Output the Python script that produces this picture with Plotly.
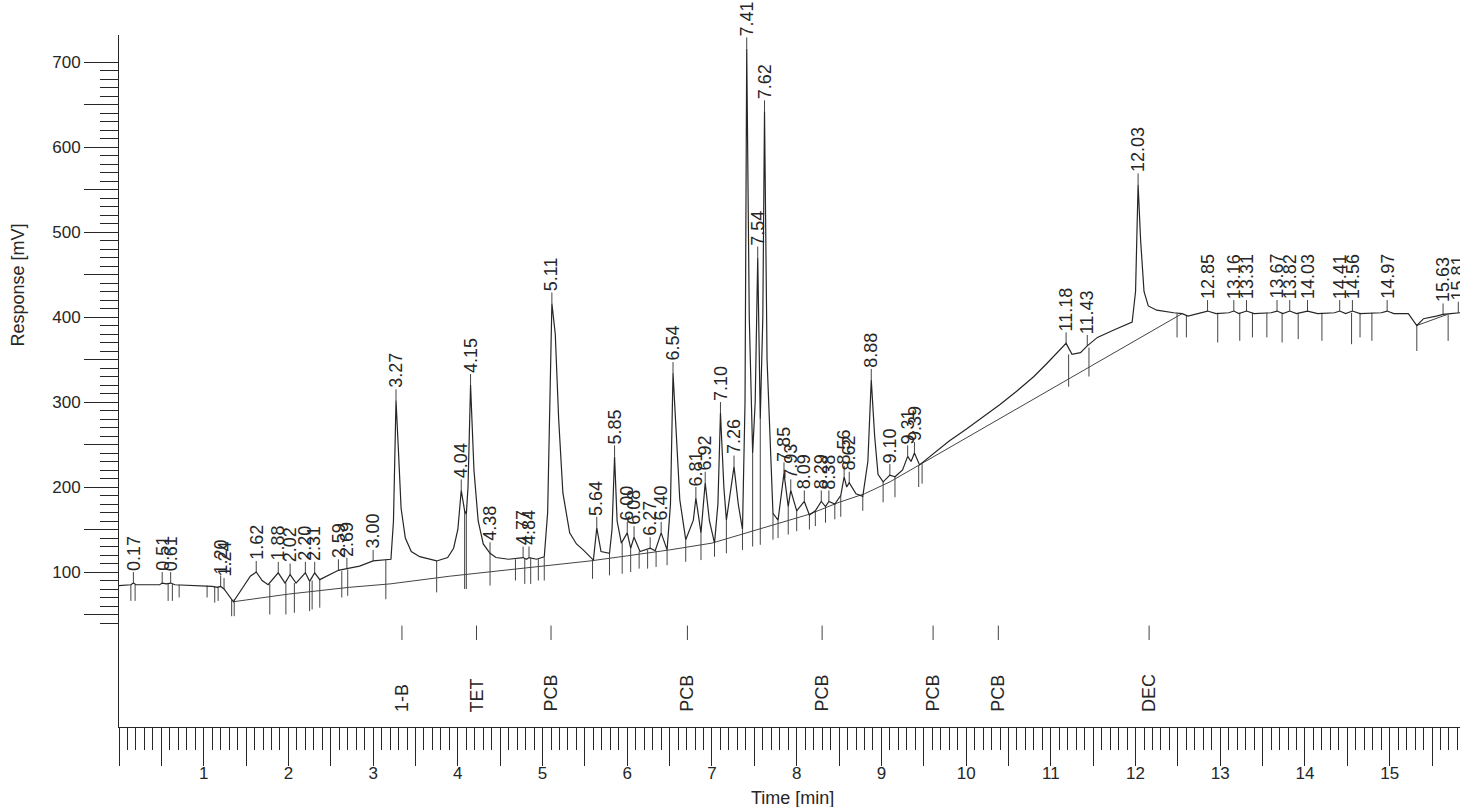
import plotly.graph_objects as go

# ---------------- data ----------------
# chromatogram trace vertices: time [min], response [mV]
trace_t = [0.00, 0.14, 0.17, 0.20, 0.48, 0.51, 0.56, 0.61, 0.66, 0.90, 1.10, 1.16, 1.20, 1.24,
           1.35, 1.45, 1.55, 1.62, 1.69, 1.76, 1.88, 1.96, 2.02, 2.09, 2.20, 2.25, 2.31, 2.37,
           2.50, 2.59, 2.69, 2.84, 3.00, 3.10, 3.21, 3.24, 3.27, 3.30, 3.33, 3.38, 3.45, 3.55,
           3.75, 3.88, 3.95, 4.00, 4.04, 4.08, 4.10, 4.12, 4.15, 4.19, 4.24, 4.30, 4.38, 4.45,
           4.60, 4.77, 4.81, 4.84, 4.93, 5.02, 5.06, 5.11, 5.15, 5.19, 5.24, 5.32, 5.40, 5.48,
           5.60, 5.64, 5.69, 5.79, 5.82, 5.85, 5.88, 5.93, 6.00, 6.04, 6.08, 6.15, 6.27, 6.33,
           6.40, 6.47, 6.51, 6.54, 6.58, 6.62, 6.69, 6.78, 6.81, 6.87, 6.92, 6.97, 7.03, 7.07,
           7.10, 7.14, 7.17, 7.26, 7.31, 7.36, 7.39, 7.41, 7.44, 7.48, 7.51, 7.54, 7.57, 7.60,
           7.62, 7.65, 7.72, 7.78, 7.85, 7.90, 7.93, 8.00, 8.09, 8.15, 8.22, 8.29, 8.34, 8.38,
           8.45, 8.52, 8.56, 8.59, 8.62, 8.70, 8.78, 8.84, 8.88, 8.92, 8.96, 9.02, 9.10, 9.16,
           9.25, 9.31, 9.35, 9.39, 9.45, 9.60, 9.80, 10.00, 10.20, 10.40, 10.60, 10.80, 10.95,
           11.10, 11.18, 11.25, 11.35, 11.43, 11.55, 11.75, 11.96, 12.00, 12.03, 12.06, 12.10,
           12.15, 12.25, 12.45, 12.55, 12.62, 12.75, 12.85, 12.95, 13.10, 13.16, 13.22, 13.31,
           13.40, 13.60, 13.67, 13.74, 13.82, 13.90, 14.03, 14.15, 14.35, 14.41, 14.48, 14.56,
           14.65, 14.90, 14.97, 15.05, 15.22, 15.32, 15.40, 15.55, 15.63, 15.72, 15.81, 15.83]
trace_v = [84, 85, 87, 85, 85, 87, 86, 87, 85, 84, 83, 82, 83, 80,
           65, 80, 95, 100, 90, 85, 99, 87, 97, 87, 99, 89, 99, 91,
           97, 102, 104, 107, 113, 114, 115, 160, 302, 240, 175, 140, 124, 118,
           113, 117, 128, 150, 196, 172, 168, 200, 320, 220, 160, 133, 122, 117,
           115, 117, 115, 117, 115, 118, 170, 416, 380, 280, 193, 146, 133, 126,
           114, 152, 124, 122, 150, 236, 160, 134, 146, 128, 141, 124, 128, 125,
           146, 126, 180, 334, 260, 185, 138, 161, 187, 146, 205, 160, 134, 180,
           287, 200, 161, 224, 180, 150, 300, 716, 400, 240, 300, 470, 280, 400,
           642, 350, 169, 161, 216, 177, 196, 172, 183, 167, 172, 183, 177, 183,
           180, 190, 212, 200, 205, 192, 189, 230, 326, 260, 215, 206, 214, 212,
           220, 236, 230, 240, 226, 238, 254, 268, 282, 297, 313, 330, 345,
           360, 369, 356, 358, 366, 376, 385, 394, 430, 556, 490, 430,
           413, 408, 405, 404, 401, 404, 407, 404, 405, 407, 404, 407,
           404, 405, 407, 404, 407, 404, 407, 404, 405, 407, 404, 407,
           404, 405, 407, 404, 404, 390, 398, 401, 403, 404, 405, 405]

# integration baseline
base_t = [1.35, 2.00, 2.72, 3.20, 3.90, 4.70, 5.56, 6.00, 6.50, 7.00, 7.40, 7.80, 8.15, 8.50,
          8.80, 9.10, 9.45, 12.55]
base_v = [65, 74, 82, 86, 95, 104, 113, 119, 126, 134, 146, 158, 168, 182, 192, 206, 226, 404]
base2_t = [15.32, 15.68]
base2_v = [390, 403]

# peak labels (retention time) and the response at the apex
peak_lbl = ["0.17", "0.51", "0.61", "1.20", "1.24", "1.62", "1.88", "2.02", "2.20", "2.31",
            "2.59", "2.69", "3.00", "3.27", "4.04", "4.15", "4.38", "4.77", "4.84", "5.11",
            "5.64", "5.85", "6.00", "6.08", "6.27", "6.40", "6.54", "6.81", "6.92", "7.10",
            "7.26", "7.41", "7.54", "7.62", "7.85", "7.93", "8.09", "8.29", "8.38", "8.56",
            "8.62", "8.88", "9.10", "9.31", "9.39", "11.18", "11.43", "12.03", "12.85", "13.16",
            "13.31", "13.67", "13.82", "14.03", "14.41", "14.56", "14.97", "15.63", "15.81"]
peak_v = [87, 87, 87, 83, 80, 100, 99, 97, 99, 99,
          102, 104, 113, 302, 196, 320, 122, 117, 117, 416,
          152, 236, 146, 141, 128, 146, 334, 187, 205, 287,
          224, 716, 470, 642, 216, 196, 183, 183, 183, 212,
          205, 326, 214, 236, 240, 369, 366, 556, 407, 407,
          407, 407, 407, 407, 407, 407, 407, 403, 405]

# integration event markers: time, top, bottom [mV]
mark_t = [0.14, 0.19, 0.58, 0.63, 0.71, 1.04, 1.13, 1.17, 1.33, 1.36, 1.78, 1.97, 2.07, 2.25,
          2.28, 2.37, 2.63, 2.70, 3.15, 3.75, 4.08, 4.10, 4.38, 4.68, 4.79, 4.86, 4.95, 5.02,
          5.59, 5.79, 5.94, 6.04, 6.14, 6.24, 6.34, 6.47, 6.69, 6.87, 7.03, 7.17, 7.36, 7.48,
          7.57, 7.72, 7.78, 7.90, 8.00, 8.15, 8.22, 8.34, 8.45, 8.52, 8.78, 9.02, 9.16, 9.44,
          9.48, 11.21, 11.45, 12.49, 12.60, 12.97, 13.23, 13.38, 13.55, 13.73, 13.92, 14.20,
          14.55, 14.65, 14.79, 15.32, 15.69]
mark_top = [85, 85, 86, 86, 85, 84, 83, 83, 68, 68, 86, 87, 87, 89,
            90, 91, 101, 103, 114, 113, 172, 168, 122, 115, 116, 116, 115, 117,
            114, 122, 134, 128, 124, 126, 125, 126, 138, 146, 134, 161, 150, 240,
            280, 169, 161, 177, 172, 167, 172, 177, 180, 190, 189, 206, 212, 226,
            228, 356, 364, 404, 402, 405, 405, 405, 405, 405, 405, 405,
            405, 405, 405, 390, 403]
mark_bot = [66, 66, 66, 66, 70, 70, 64, 66, 48, 48, 50, 50, 52, 54,
            56, 58, 70, 72, 68, 76, 80, 80, 84, 90, 86, 86, 90, 90,
            92, 96, 98, 100, 104, 104, 106, 108, 112, 114, 118, 122, 126, 130,
            132, 138, 140, 144, 148, 150, 154, 158, 162, 165, 172, 182, 188, 200,
            204, 318, 330, 376, 376, 370, 372, 376, 376, 370, 374, 372,
            368, 376, 372, 360, 372]

# compound identification windows
id_t = [3.34, 4.22, 5.10, 6.71, 8.30, 9.61, 10.38, 12.16]
id_lbl = ["1-B", "TET", "PCB", "PCB", "PCB", "PCB", "PCB", "DEC"]
id_tick = [20, 37]
id_text_v = -67

# axes
X_RANGE = [0, 15.83]
Y_RANGE = [-82.35, 731.76]
x_major = [i * 0.5 for i in range(0, 32)]
x_major_txt = [str(int(v)) if (v == int(v) and v > 0) else "" for v in x_major]
x_minor = [round(i * 0.1, 1) for i in range(1, 159) if i % 5 != 0]
y_major = list(range(50, 701, 50))
y_major_txt = [str(v) if v % 100 == 0 else "" for v in y_major]
y_minor = [v for v in range(40, 700, 10) if v % 50 != 0]

# ---------------- figure ----------------
INK = "#262626"
FONT = "Arial, Liberation Sans, sans-serif"
W, H = 1460, 807
M = dict(l=119, r=0, t=35, b=80)
plot_h = H - M["t"] - M["b"]
mv_per_px = (Y_RANGE[1] - Y_RANGE[0]) / plot_h
LABEL_GAP_PX = 11

fig = go.Figure()

def segments(ts, tops, bots):
    xs, ys = [], []
    for t, a, b in zip(ts, tops, bots):
        xs += [t, t, None]
        ys += [a, b, None]
    return xs, ys

def add_lines(xs, ys, color="#444", width=1):
    fig.add_trace(go.Scatter(x=xs, y=ys, mode="lines", line=dict(color=color, width=width),
                             hoverinfo="skip", showlegend=False))

mx, my = segments(mark_t, mark_top, mark_bot)
add_lines(mx, my)
ix, iy = segments(id_t, [id_tick[1]] * len(id_t), [id_tick[0]] * len(id_t))
add_lines(ix, iy)
peak_t = [float(s) for s in peak_lbl]
px_, py_ = segments(peak_t, peak_v, [v + LABEL_GAP_PX * mv_per_px for v in peak_v])
add_lines(px_, py_)
add_lines(base_t, base_v)
add_lines(base2_t, base2_v)
add_lines(trace_t, trace_v, color=INK, width=1.2)

ann = []
for t, lbl, v in zip(peak_t, peak_lbl, peak_v):
    ann.append(dict(x=t, y=v, xref="x", yref="y", text=lbl, textangle=-90,
                    showarrow=False, xanchor="center", yanchor="bottom",
                    yshift=LABEL_GAP_PX - 1,
                    font=dict(family=FONT, size=18, color=INK)))
for t, lbl in zip(id_t, id_lbl):
    ann.append(dict(x=t, y=id_text_v, xref="x", yref="y", text=lbl, textangle=-90,
                    showarrow=False, xanchor="center", yanchor="bottom",
                    font=dict(family=FONT, size=18, color=INK)))
ann.append(dict(x=0.5026, y=-0.103, xref="paper", yref="paper", text="Time [min]",
                showarrow=False, xanchor="center", yanchor="middle",
                font=dict(family=FONT, size=18, color=INK)))
ann.append(dict(x=-0.0755, y=0.639, xref="paper", yref="paper", text="Response [mV]",
                textangle=-90, showarrow=False, xanchor="center", yanchor="middle",
                font=dict(family=FONT, size=18, color=INK)))

fig.update_layout(
    width=W, height=H,
    margin=M,
    paper_bgcolor="white", plot_bgcolor="white",
    annotations=ann,
    xaxis=dict(range=X_RANGE, showline=True, linecolor=INK, linewidth=1, automargin=False,
               ticks="outside", tickvals=x_major, ticktext=x_major_txt, ticklen=38,
               ticklabelstandoff=-7,
               tickwidth=1, tickcolor=INK, tickfont=dict(family=FONT, size=17, color=INK),
               minor=dict(tickmode="array", tickvals=x_minor, ticks="outside", ticklen=22,
                          tickwidth=1, tickcolor=INK),
               showgrid=False, zeroline=False),
    yaxis=dict(range=Y_RANGE, showline=True, linecolor=INK, linewidth=1, automargin=False,
               ticks="outside", tickvals=y_major, ticktext=y_major_txt, ticklen=34,
               tickwidth=1, tickcolor=INK, tickfont=dict(family=FONT, size=17, color=INK),
               minor=dict(tickmode="array", tickvals=y_minor, ticks="outside", ticklen=18,
                          tickwidth=1, tickcolor=INK),
               showgrid=False, zeroline=False),
)

fig.write_html("out.html", config={"displayModeBar": False},
               post_script="document.body.style.margin='0';")
